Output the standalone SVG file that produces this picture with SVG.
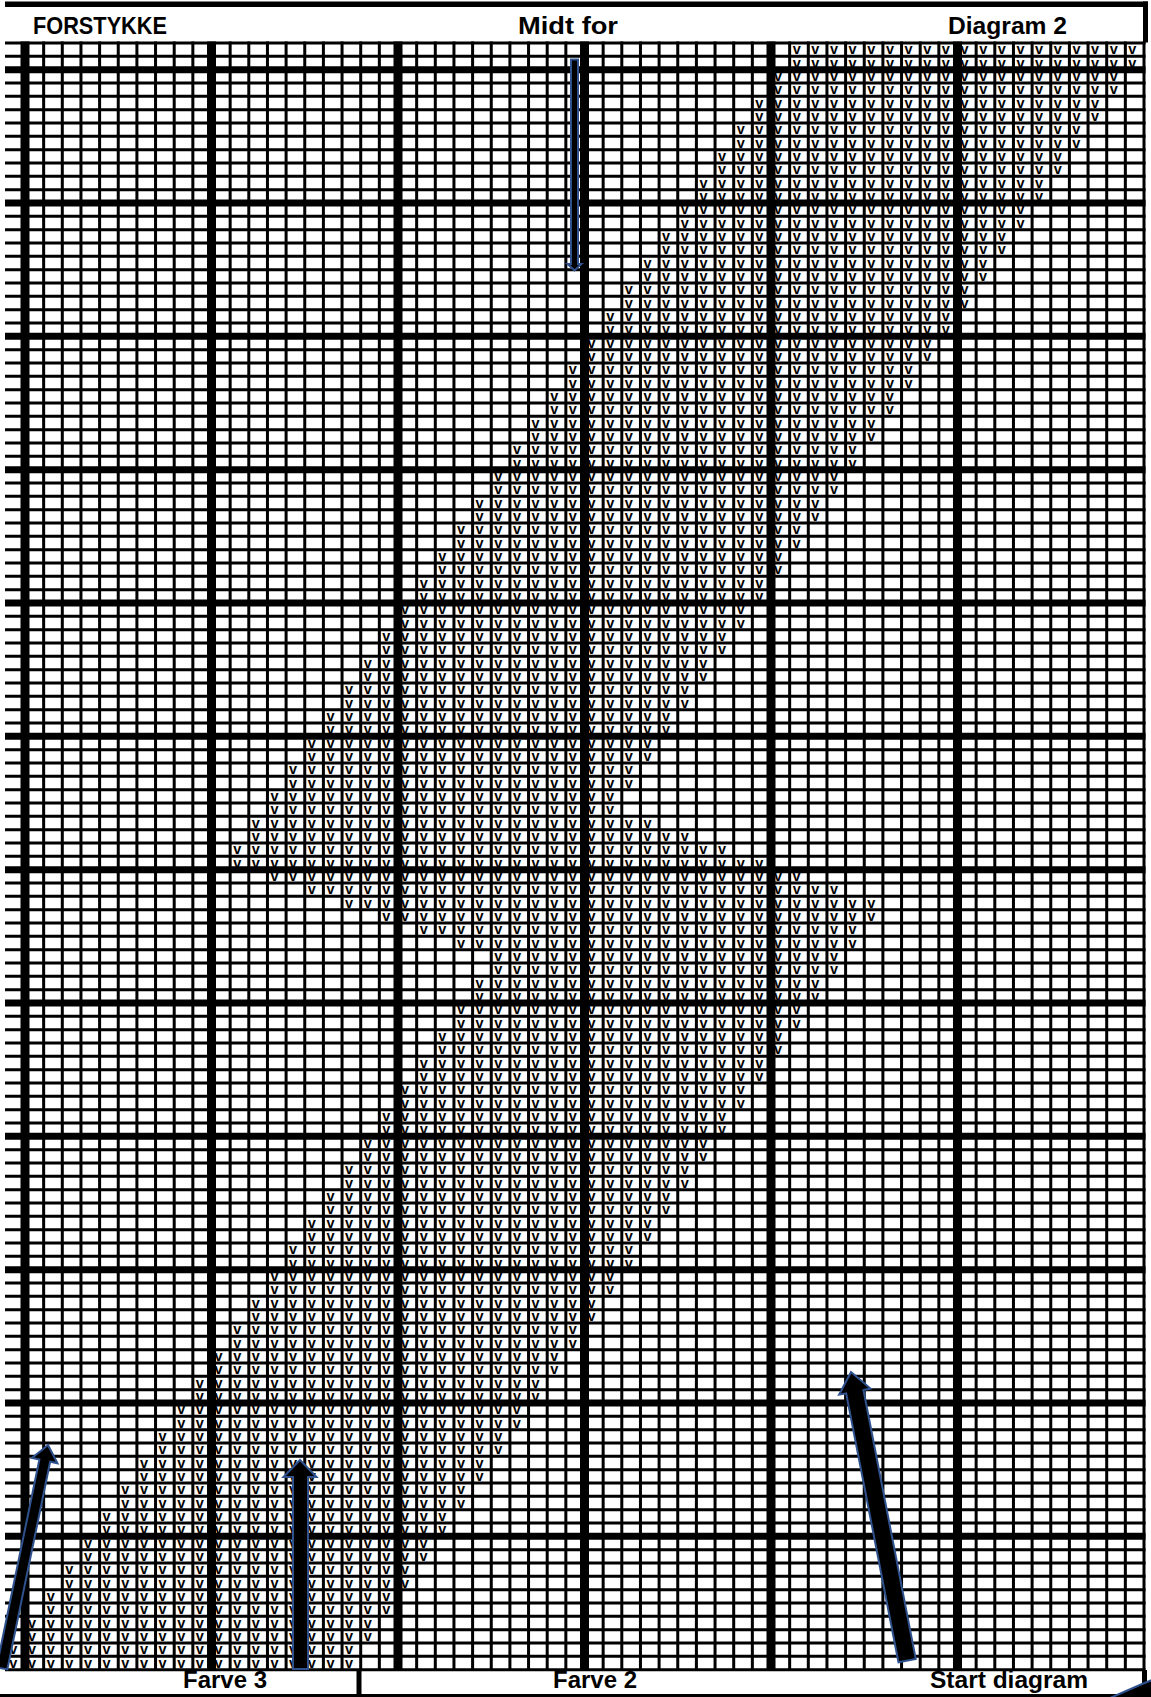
<svg xmlns="http://www.w3.org/2000/svg" width="1151" height="1697" viewBox="0 0 1151 1697">
<style>
.v{font-family:"Liberation Sans",Arial,sans-serif;font-weight:bold;font-size:14.5px;letter-spacing:10.585px;fill:#000}
.lbl{font-family:"Liberation Sans",Arial,sans-serif;font-weight:bold;font-size:24px;fill:#000}
.thin{stroke:#000;stroke-width:3;fill:none}
.thickh{stroke:#000;stroke-width:7;fill:none}
.thickv{stroke:#000;stroke-width:9;fill:none}
.arr{fill:#000;stroke:#2F528F;stroke-width:2;stroke-linejoin:miter}
</style>
<rect width="1151" height="1697" fill="#fff"/>
<g id="marks" class="v">
<text x="792.65" y="54.33">vvvvvvvvvvvvvvvvvvv</text>
<text x="792.65" y="67.67">vvvvvvvvvvvvvvvvvvv</text>
<text x="774" y="81">vvvvvvvvvvvvvvvvvvv</text>
<text x="774" y="94.33">vvvvvvvvvvvvvvvvvvv</text>
<text x="755.35" y="107.67">vvvvvvvvvvvvvvvvvvv</text>
<text x="755.35" y="121">vvvvvvvvvvvvvvvvvvv</text>
<text x="736.7" y="134.33">vvvvvvvvvvvvvvvvvvv</text>
<text x="736.7" y="147.67">vvvvvvvvvvvvvvvvvvv</text>
<text x="718.05" y="161">vvvvvvvvvvvvvvvvvvv</text>
<text x="718.05" y="174.33">vvvvvvvvvvvvvvvvvvv</text>
<text x="699.4" y="187.67">vvvvvvvvvvvvvvvvvvv</text>
<text x="699.4" y="201">vvvvvvvvvvvvvvvvvvv</text>
<text x="680.75" y="214.33">vvvvvvvvvvvvvvvvvvv</text>
<text x="680.75" y="227.67">vvvvvvvvvvvvvvvvvvv</text>
<text x="662.1" y="241">vvvvvvvvvvvvvvvvvvv</text>
<text x="662.1" y="254.33">vvvvvvvvvvvvvvvvvvv</text>
<text x="643.45" y="267.67">vvvvvvvvvvvvvvvvvvv</text>
<text x="643.45" y="281">vvvvvvvvvvvvvvvvvvv</text>
<text x="624.8" y="294.33">vvvvvvvvvvvvvvvvvvv</text>
<text x="624.8" y="307.67">vvvvvvvvvvvvvvvvvvv</text>
<text x="606.15" y="321">vvvvvvvvvvvvvvvvvvv</text>
<text x="606.15" y="334.33">vvvvvvvvvvvvvvvvvvv</text>
<text x="587.5" y="347.67">vvvvvvvvvvvvvvvvvvv</text>
<text x="587.5" y="361">vvvvvvvvvvvvvvvvvvv</text>
<text x="568.85" y="374.33">vvvvvvvvvvvvvvvvvvv</text>
<text x="568.85" y="387.67">vvvvvvvvvvvvvvvvvvv</text>
<text x="550.2" y="401">vvvvvvvvvvvvvvvvvvv</text>
<text x="550.2" y="414.33">vvvvvvvvvvvvvvvvvvv</text>
<text x="531.55" y="427.67">vvvvvvvvvvvvvvvvvvv</text>
<text x="531.55" y="441">vvvvvvvvvvvvvvvvvvv</text>
<text x="512.9" y="454.33">vvvvvvvvvvvvvvvvvvv</text>
<text x="512.9" y="467.67">vvvvvvvvvvvvvvvvvvv</text>
<text x="494.25" y="481">vvvvvvvvvvvvvvvvvvv</text>
<text x="494.25" y="494.33">vvvvvvvvvvvvvvvvvvv</text>
<text x="475.6" y="507.67">vvvvvvvvvvvvvvvvvvv</text>
<text x="475.6" y="521">vvvvvvvvvvvvvvvvvvv</text>
<text x="456.95" y="534.33">vvvvvvvvvvvvvvvvvvv</text>
<text x="456.95" y="547.67">vvvvvvvvvvvvvvvvvvv</text>
<text x="438.3" y="561">vvvvvvvvvvvvvvvvvvv</text>
<text x="438.3" y="574.33">vvvvvvvvvvvvvvvvvvv</text>
<text x="419.65" y="587.67">vvvvvvvvvvvvvvvvvvv</text>
<text x="419.65" y="601">vvvvvvvvvvvvvvvvvvv</text>
<text x="401" y="614.33">vvvvvvvvvvvvvvvvvvv</text>
<text x="401" y="627.67">vvvvvvvvvvvvvvvvvvv</text>
<text x="382.35" y="641">vvvvvvvvvvvvvvvvvvv</text>
<text x="382.35" y="654.33">vvvvvvvvvvvvvvvvvvv</text>
<text x="363.7" y="667.67">vvvvvvvvvvvvvvvvvvv</text>
<text x="363.7" y="681">vvvvvvvvvvvvvvvvvvv</text>
<text x="345.05" y="694.33">vvvvvvvvvvvvvvvvvvv</text>
<text x="345.05" y="707.67">vvvvvvvvvvvvvvvvvvv</text>
<text x="326.4" y="721">vvvvvvvvvvvvvvvvvvv</text>
<text x="326.4" y="734.33">vvvvvvvvvvvvvvvvvvv</text>
<text x="307.75" y="747.67">vvvvvvvvvvvvvvvvvvv</text>
<text x="307.75" y="761">vvvvvvvvvvvvvvvvvvv</text>
<text x="289.1" y="774.33">vvvvvvvvvvvvvvvvvvv</text>
<text x="289.1" y="787.67">vvvvvvvvvvvvvvvvvvv</text>
<text x="270.45" y="801">vvvvvvvvvvvvvvvvvvv</text>
<text x="270.45" y="814.33">vvvvvvvvvvvvvvvvvvv</text>
<text x="251.8" y="827.67">vvvvvvvvvvvvvvvvvvvvvv</text>
<text x="251.8" y="841">vvvvvvvvvvvvvvvvvvvvvvvv</text>
<text x="233.15" y="854.33">vvvvvvvvvvvvvvvvvvvvvvvvvvv</text>
<text x="233.15" y="867.67">vvvvvvvvvvvvvvvvvvvvvvvvvvvvv</text>
<text x="270.45" y="881">vvvvvvvvvvvvvvvvvvvvvvvvvvvvv</text>
<text x="307.75" y="894.33">vvvvvvvvvvvvvvvvvvvvvvvvvvvvv</text>
<text x="345.05" y="907.67">vvvvvvvvvvvvvvvvvvvvvvvvvvvvv</text>
<text x="382.35" y="921">vvvvvvvvvvvvvvvvvvvvvvvvvvv</text>
<text x="419.65" y="934.33">vvvvvvvvvvvvvvvvvvvvvvvv</text>
<text x="456.95" y="947.67">vvvvvvvvvvvvvvvvvvvvvv</text>
<text x="494.25" y="961">vvvvvvvvvvvvvvvvvvv</text>
<text x="494.25" y="974.33">vvvvvvvvvvvvvvvvvvv</text>
<text x="475.6" y="987.67">vvvvvvvvvvvvvvvvvvv</text>
<text x="475.6" y="1001">vvvvvvvvvvvvvvvvvvv</text>
<text x="456.95" y="1014.33">vvvvvvvvvvvvvvvvvvv</text>
<text x="456.95" y="1027.67">vvvvvvvvvvvvvvvvvvv</text>
<text x="438.3" y="1041">vvvvvvvvvvvvvvvvvvv</text>
<text x="438.3" y="1054.33">vvvvvvvvvvvvvvvvvvv</text>
<text x="419.65" y="1067.67">vvvvvvvvvvvvvvvvvvv</text>
<text x="419.65" y="1081">vvvvvvvvvvvvvvvvvvv</text>
<text x="401" y="1094.33">vvvvvvvvvvvvvvvvvvv</text>
<text x="401" y="1107.67">vvvvvvvvvvvvvvvvvvv</text>
<text x="382.35" y="1121">vvvvvvvvvvvvvvvvvvv</text>
<text x="382.35" y="1134.33">vvvvvvvvvvvvvvvvvvv</text>
<text x="363.7" y="1147.67">vvvvvvvvvvvvvvvvvvv</text>
<text x="363.7" y="1161">vvvvvvvvvvvvvvvvvvv</text>
<text x="345.05" y="1174.33">vvvvvvvvvvvvvvvvvvv</text>
<text x="345.05" y="1187.67">vvvvvvvvvvvvvvvvvvv</text>
<text x="326.4" y="1201">vvvvvvvvvvvvvvvvvvv</text>
<text x="326.4" y="1214.33">vvvvvvvvvvvvvvvvvvv</text>
<text x="307.75" y="1227.67">vvvvvvvvvvvvvvvvvvv</text>
<text x="307.75" y="1241">vvvvvvvvvvvvvvvvvvv</text>
<text x="289.1" y="1254.33">vvvvvvvvvvvvvvvvvvv</text>
<text x="289.1" y="1267.67">vvvvvvvvvvvvvvvvvvv</text>
<text x="270.45" y="1281">vvvvvvvvvvvvvvvvvvv</text>
<text x="270.45" y="1294.33">vvvvvvvvvvvvvvvvvvv</text>
<text x="251.8" y="1307.67">vvvvvvvvvvvvvvvvvvv</text>
<text x="251.8" y="1321">vvvvvvvvvvvvvvvvvvv</text>
<text x="233.15" y="1334.33">vvvvvvvvvvvvvvvvvvv</text>
<text x="233.15" y="1347.67">vvvvvvvvvvvvvvvvvvv</text>
<text x="214.5" y="1361">vvvvvvvvvvvvvvvvvvv</text>
<text x="214.5" y="1374.33">vvvvvvvvvvvvvvvvvvv</text>
<text x="195.85" y="1387.67">vvvvvvvvvvvvvvvvvvv</text>
<text x="195.85" y="1401">vvvvvvvvvvvvvvvvvvv</text>
<text x="177.2" y="1414.33">vvvvvvvvvvvvvvvvvvv</text>
<text x="177.2" y="1427.67">vvvvvvvvvvvvvvvvvvv</text>
<text x="158.55" y="1441">vvvvvvvvvvvvvvvvvvv</text>
<text x="158.55" y="1454.33">vvvvvvvvvvvvvvvvvvv</text>
<text x="139.9" y="1467.67">vvvvvvvvvvvvvvvvvvv</text>
<text x="139.9" y="1481">vvvvvvvvvvvvvvvvvvv</text>
<text x="121.25" y="1494.33">vvvvvvvvvvvvvvvvvvv</text>
<text x="121.25" y="1507.67">vvvvvvvvvvvvvvvvvvv</text>
<text x="102.6" y="1521">vvvvvvvvvvvvvvvvvvv</text>
<text x="102.6" y="1534.33">vvvvvvvvvvvvvvvvvvv</text>
<text x="83.95" y="1547.67">vvvvvvvvvvvvvvvvvvv</text>
<text x="83.95" y="1561">vvvvvvvvvvvvvvvvvvv</text>
<text x="65.3" y="1574.33">vvvvvvvvvvvvvvvvvvv</text>
<text x="65.3" y="1587.67">vvvvvvvvvvvvvvvvvvv</text>
<text x="46.65" y="1601">vvvvvvvvvvvvvvvvvvv</text>
<text x="46.65" y="1614.33">vvvvvvvvvvvvvvvvvvv</text>
<text x="28" y="1627.67">vvvvvvvvvvvvvvvvvvv</text>
<text x="28" y="1641">vvvvvvvvvvvvvvvvvvv</text>
<text x="9.35" y="1654.33">vvvvvvvvvvvvvvvvvvv</text>
<text x="9.35" y="1667.67">vvvvvvvvvvvvvvvvvvv</text>
</g>
<g id="grid">
<path class="thin" d="M5 43H1145.5M5 56.33H1145.5M5 83H1145.5M5 96.33H1145.5M5 109.67H1145.5M5 123H1145.5M5 136.33H1145.5M5 149.67H1145.5M5 163H1145.5M5 176.33H1145.5M5 189.67H1145.5M5 216.33H1145.5M5 229.67H1145.5M5 243H1145.5M5 256.33H1145.5M5 269.67H1145.5M5 283H1145.5M5 296.33H1145.5M5 309.67H1145.5M5 323H1145.5M5 349.67H1145.5M5 363H1145.5M5 376.33H1145.5M5 389.67H1145.5M5 403H1145.5M5 416.33H1145.5M5 429.67H1145.5M5 443H1145.5M5 456.33H1145.5M5 483H1145.5M5 496.33H1145.5M5 509.67H1145.5M5 523H1145.5M5 536.33H1145.5M5 549.67H1145.5M5 563H1145.5M5 576.33H1145.5M5 589.67H1145.5M5 616.33H1145.5M5 629.67H1145.5M5 643H1145.5M5 656.33H1145.5M5 669.67H1145.5M5 683H1145.5M5 696.33H1145.5M5 709.67H1145.5M5 723H1145.5M5 749.67H1145.5M5 763H1145.5M5 776.33H1145.5M5 789.67H1145.5M5 803H1145.5M5 816.33H1145.5M5 829.67H1145.5M5 843H1145.5M5 856.33H1145.5M5 883H1145.5M5 896.33H1145.5M5 909.67H1145.5M5 923H1145.5M5 936.33H1145.5M5 949.67H1145.5M5 963H1145.5M5 976.33H1145.5M5 989.67H1145.5M5 1016.33H1145.5M5 1029.67H1145.5M5 1043H1145.5M5 1056.33H1145.5M5 1069.67H1145.5M5 1083H1145.5M5 1096.33H1145.5M5 1109.67H1145.5M5 1123H1145.5M5 1149.67H1145.5M5 1163H1145.5M5 1176.33H1145.5M5 1189.67H1145.5M5 1203H1145.5M5 1216.33H1145.5M5 1229.67H1145.5M5 1243H1145.5M5 1256.33H1145.5M5 1283H1145.5M5 1296.33H1145.5M5 1309.67H1145.5M5 1323H1145.5M5 1336.33H1145.5M5 1349.67H1145.5M5 1363H1145.5M5 1376.33H1145.5M5 1389.67H1145.5M5 1416.33H1145.5M5 1429.67H1145.5M5 1443H1145.5M5 1456.33H1145.5M5 1469.67H1145.5M5 1483H1145.5M5 1496.33H1145.5M5 1509.67H1145.5M5 1523H1145.5M5 1549.67H1145.5M5 1563H1145.5M5 1576.33H1145.5M5 1589.67H1145.5M5 1603H1145.5M5 1616.33H1145.5M5 1629.67H1145.5M5 1643H1145.5M5 1656.33H1145.5M5 1669.67H1145.5"/>
<path class="thin" d="M43.65 41.5V1671M62.3 41.5V1671M80.95 41.5V1671M99.6 41.5V1671M118.25 41.5V1671M136.9 41.5V1671M155.55 41.5V1671M174.2 41.5V1671M192.85 41.5V1671M230.15 41.5V1671M248.8 41.5V1671M267.45 41.5V1671M286.1 41.5V1671M304.75 41.5V1671M323.4 41.5V1671M342.05 41.5V1671M360.7 41.5V1671M379.35 41.5V1671M416.65 41.5V1671M435.3 41.5V1671M453.95 41.5V1671M472.6 41.5V1671M491.25 41.5V1671M509.9 41.5V1671M528.55 41.5V1671M547.2 41.5V1671M565.85 41.5V1671M603.15 41.5V1671M621.8 41.5V1671M640.45 41.5V1671M659.1 41.5V1671M677.75 41.5V1671M696.4 41.5V1671M715.05 41.5V1671M733.7 41.5V1671M752.35 41.5V1671M789.65 41.5V1671M808.3 41.5V1671M826.95 41.5V1671M845.6 41.5V1671M864.25 41.5V1671M882.9 41.5V1671M901.55 41.5V1671M920.2 41.5V1671M938.85 41.5V1671M976.15 41.5V1671M994.8 41.5V1671M1013.45 41.5V1671M1032.1 41.5V1671M1050.75 41.5V1671M1069.4 41.5V1671M1088.05 41.5V1671M1106.7 41.5V1671M1125.35 41.5V1671M1144 41.5V1671"/>
<path class="thickh" d="M5 69.67H1145.5M5 203H1145.5M5 336.33H1145.5M5 469.67H1145.5M5 603H1145.5M5 736.33H1145.5M5 869.67H1145.5M5 1003H1145.5M5 1136.33H1145.5M5 1269.67H1145.5M5 1403H1145.5M5 1536.33H1145.5"/>
<path class="thickv" d="M25 41.5V1671M211.5 41.5V1671M398 41.5V1671M584.5 41.5V1671M771 41.5V1671M957.5 41.5V1671"/>
</g>
<g id="frame">
<rect x="5" y="1.5" width="1143" height="5.5" fill="#000"/>
<rect x="1143" y="1.5" width="5" height="41" fill="#000"/>
<rect x="0" y="1694" width="1147" height="3" fill="#000"/>
<rect x="356.5" y="1670" width="5" height="27" fill="#000"/>
<rect x="1142" y="1670" width="5" height="27" fill="#000"/>
</g>
<g id="labels" class="lbl">
<text x="33" y="34" textLength="134" lengthAdjust="spacingAndGlyphs">FORSTYKKE</text>
<text x="518" y="34" textLength="100" lengthAdjust="spacingAndGlyphs">Midt for</text>
<text x="948" y="34" textLength="119" lengthAdjust="spacingAndGlyphs">Diagram 2</text>
<text x="183" y="1688" textLength="84" lengthAdjust="spacingAndGlyphs">Farve 3</text>
<text x="553" y="1688" textLength="84" lengthAdjust="spacingAndGlyphs">Farve 2</text>
<text x="930" y="1688" textLength="158" lengthAdjust="spacingAndGlyphs">Start diagram</text>
</g>
<g id="arrows">
<polygon id="arrow-midt" class="arr" stroke-width="1.5" points="571,59.5 578,59.5 578,264 581.5,264 574.5,270.5 567.5,264 571,264"/>
<polygon id="arrow-left" class="arr" transform="translate(48 1445) rotate(11.65)" points="0,0 13,16 5.5,16 5.5,228 -5.5,228 -5.5,16 -13,16"/>
<polygon id="arrow-mid" class="arr" points="300,1460 316.5,1477 308,1477 308,1669 293,1669 293,1477 283.5,1477"/>
<polygon id="arrow-right" class="arr" transform="translate(851 1372) rotate(-11)" points="0,0 16,20 8.8,20 8.8,294 -8.8,294 -8.8,20 -16,20"/>
<polygon id="arrow-corner" class="arr" points="1110,1698 1141,1684.5 1152,1680 1152,1698"/>
</g>
</svg>
